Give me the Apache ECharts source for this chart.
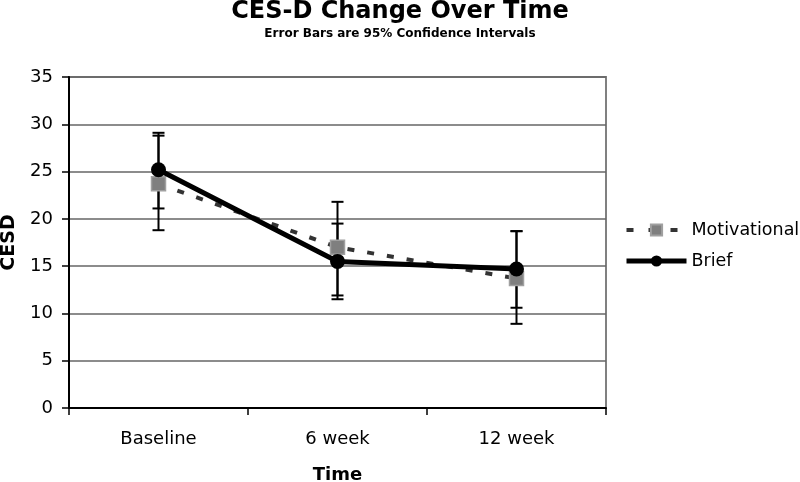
<!DOCTYPE html>
<html>
<head>
<meta charset="utf-8">
<script src="https://cdn.jsdelivr.net/npm/echarts@6/dist/echarts.min.js"></script>
<style>html,body{margin:0;padding:0;background:#fff}#c{width:800px;height:482px}</style>
</head>
<body>
<div id="c"></div>
<script>
var categories = ['Baseline', '6 week', '12 week'];
var motivational = [23.7, 17.0, 13.7];
var brief = [25.2, 15.5, 14.7];
var motivationalLow = [18.8, 11.9, 8.9];
var motivationalHigh = [28.8, 21.8, 18.7];
var briefLow = [21.1, 11.5, 10.6];
var briefHigh = [29.1, 19.5, 18.7];

var FONT = 'DejaVu Sans, Liberation Sans, sans-serif';

function errData(low, high) {
  return categories.map(function (c, i) { return [i, low[i], high[i]]; });
}
function errRender(params, api) {
  var x = api.value(0);
  var lo = api.coord([x, api.value(1)]);
  var hi = api.coord([x, api.value(2)]);
  var hw = 6;
  var st = { stroke: '#000', lineWidth: 2 };
  return {
    type: 'group',
    children: [
      { type: 'line', shape: { x1: lo[0], y1: lo[1], x2: hi[0], y2: hi[1] }, style: st },
      { type: 'line', shape: { x1: lo[0] - hw, y1: lo[1], x2: lo[0] + hw, y2: lo[1] }, style: st },
      { type: 'line', shape: { x1: hi[0] - hw, y1: hi[1], x2: hi[0] + hw, y2: hi[1] }, style: st }
    ]
  };
}

var chart = echarts.init(document.getElementById('c'), null, { renderer: 'canvas' });
chart.setOption({
  animation: false,
  backgroundColor: '#fff',
  textStyle: { fontFamily: FONT },
  title: {
    text: 'CES-D Change Over Time',
    subtext: 'Error Bars are 95% Confidence Intervals',
    left: 'center',
    top: -5,
    itemGap: 4,
    textStyle: { fontFamily: FONT, fontSize: 24, fontWeight: 'bold', color: '#000' },
    subtextStyle: { fontFamily: FONT, fontSize: 12, fontWeight: 'bold', color: '#000' }
  },
  grid: {
    left: 69, right: 194, top: 77, bottom: 74,
    containLabel: false,
    outerBoundsMode: 'none',
    show: true, borderColor: '#808080', borderWidth: 2
  },
  legend: {
    orient: 'vertical',
    left: 619,
    top: 216,
    itemWidth: 60,
    itemHeight: 14,
    itemGap: 13,
    textStyle: { fontFamily: FONT, fontSize: 17.5, color: '#000' },
    data: [
      { name: 'Motivational', lineStyle: { color: '#333', width: 4, type: [7, 15] } },
      { name: 'Brief', lineStyle: { color: '#000', width: 5 } }
    ]
  },
  xAxis: {
    type: 'category',
    data: categories,
    boundaryGap: true,
    name: 'Time',
    nameLocation: 'middle',
    nameGap: 58,
    nameTextStyle: { fontFamily: FONT, fontSize: 18, fontWeight: 'bold', color: '#000' },
    axisLine: { lineStyle: { color: '#000', width: 2 } },
    axisTick: { show: true, length: 7, lineStyle: { color: '#000', width: 1.5 } },
    axisLabel: { fontFamily: FONT, fontSize: 18, color: '#000', margin: 22 },
    splitLine: { show: false }
  },
  yAxis: {
    type: 'value',
    min: 0, max: 35, interval: 5,
    name: 'CESD',
    nameLocation: 'middle',
    nameRotate: 90,
    nameGap: 50,
    nameTextStyle: { fontFamily: FONT, fontSize: 19, fontWeight: 'bold', color: '#000' },
    axisLine: { show: true, lineStyle: { color: '#000', width: 2 } },
    axisTick: { show: true, length: 7, lineStyle: { color: '#000', width: 1.5 } },
    axisLabel: { fontFamily: FONT, fontSize: 18, color: '#000', margin: 16 },
    splitLine: { show: true, lineStyle: { color: '#666', width: 1.5 } }
  },
  series: [
    {
      type: 'custom', name: 'errM', renderItem: errRender, data: errData(motivationalLow, motivationalHigh),
      z: 1, silent: true, encode: { x: 0, y: [1, 2] }
    },
    {
      type: 'custom', name: 'errB', renderItem: errRender, data: errData(briefLow, briefHigh),
      z: 1, silent: true, encode: { x: 0, y: [1, 2] }
    },
    {
      name: 'Motivational', type: 'line', data: motivational, z: 3,
      symbol: 'rect', symbolSize: 14,
      lineStyle: { color: '#333', width: 4, type: [7, 13] },
      itemStyle: { color: '#7f7f7f', borderColor: '#a0a0a0', borderWidth: 1.5 }
    },
    {
      name: 'Brief', type: 'line', data: brief, z: 4,
      symbol: 'circle', symbolSize: 15,
      lineStyle: { color: '#000', width: 5 },
      itemStyle: { color: '#000', borderColor: '#000', borderWidth: 0 }
    }
  ]
});
</script>
</body>
</html>
